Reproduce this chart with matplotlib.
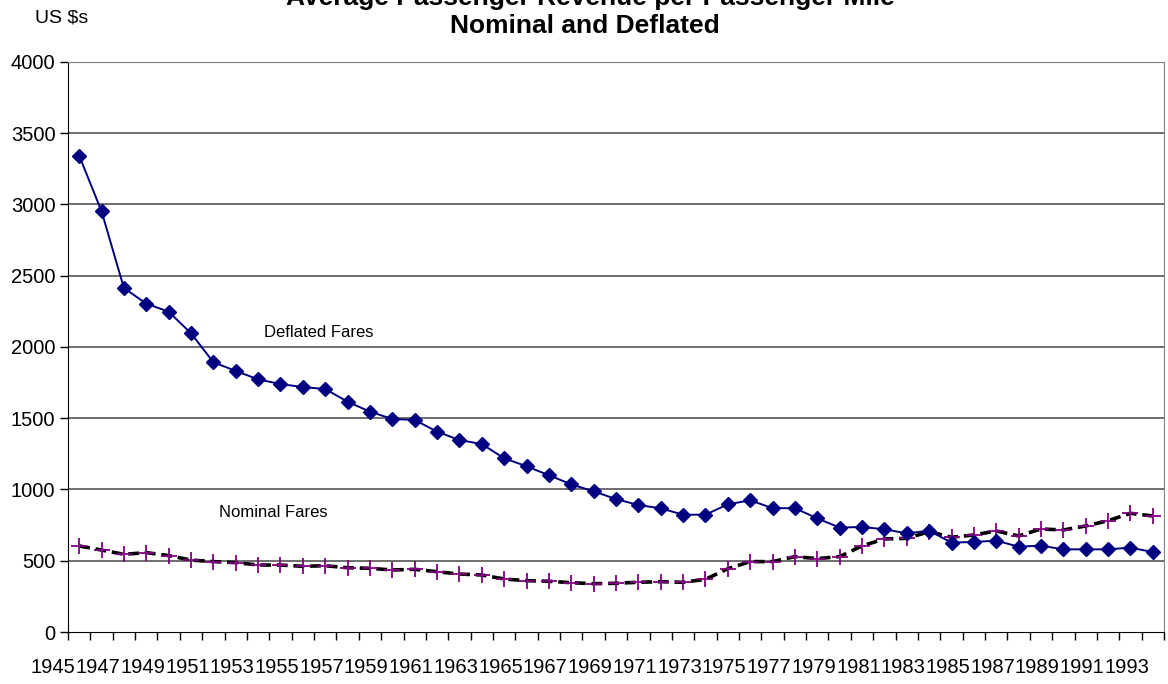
import numpy as np
import matplotlib
matplotlib.use("Agg")
import matplotlib.pyplot as plt
import matplotlib.transforms as mtransforms

plt.rcParams["font.family"] = ["Liberation Sans", "DejaVu Sans"]

# values (US $s)
years = list(range(1945, 1994))
deflated = [3343, 2952, 2414, 2304, 2248, 2096, 1893, 1832, 1773, 1740,
            1719, 1705, 1616, 1546, 1495, 1488, 1406, 1347, 1319, 1219,
            1163, 1100, 1036, 987, 933, 891, 868, 823, 823, 896,
            924, 869, 869, 797, 733, 737, 721, 692, 711, 627,
            632, 641, 599, 606, 580, 580, 580, 592, 561]
nominal = [604, 575, 545, 557, 536, 505, 494, 487, 470, 470,
           461, 465, 451, 447, 435, 440, 423, 407, 400, 372,
           360, 356, 346, 339, 342, 349, 353, 349, 370, 444,
           494, 494, 529, 515, 529, 604, 653, 657, 704, 665,
           681, 709, 674, 723, 716, 744, 781, 833, 814]
yticks = [0, 500, 1000, 1500, 2000, 2500, 3000, 3500, 4000]

x = np.arange(len(years))

fig = plt.figure(figsize=(11.68, 6.84), dpi=100)
ax = fig.add_axes([68 / 1168, 52 / 684, 1096 / 1168, 570 / 684])

for v in yticks[1:]:
    ax.axhline(v, color="#555555", lw=1.2, zorder=1)

ax.plot(x, nominal, color="black", lw=2.6, ls=(0, (3, 1.6)), zorder=2)
ax.plot(x, nominal, ls="none", marker="+", ms=11, mew=1.3, color="#800080", zorder=3)
ax.plot(x, deflated, color="#000080", lw=1.4, marker="D", ms=7, zorder=4)

ax.set_yticks(yticks)
ax.tick_params(axis="y", direction="out", length=6, width=1, labelsize=14.5, pad=3)

# tick marks on category boundaries, labels every other year
ax.set_xticks(np.arange(-0.5, len(years)), labels=[])
ax.set_xticks(x[::2], labels=[str(y) for y in years[::2]], minor=True)
ax.tick_params(axis="x", which="major", direction="out", length=6, width=1)
ax.tick_params(axis="x", which="minor", length=0, labelsize=14.5, pad=19)
ax.set_xlim(-0.5, len(years) - 0.5)
ax.set_ylim(0, 4000)

# the original's year labels sit ~26 px left of their categories
shift = mtransforms.ScaledTranslation(-26 / 100, 0, fig.dpi_scale_trans)
for t in ax.xaxis.get_minor_ticks():
    t.label1.set_transform(t.label1.get_transform() + shift)

ax.spines["left"].set_color("black")
ax.spines["bottom"].set_color("black")
ax.spines["right"].set_color("#808080")
ax.spines["top"].set_color("#808080")

ax.text(10.7, 2105, "Deflated Fares", fontsize=12, ha="center", va="center")
ax.text(8.7, 842, "Nominal Fares", fontsize=12, ha="center", va="center")

fig.text(590 / 1168, 1 - (-2) / 684, "Average Passenger Revenue per Passenger Mile",
         fontsize=19, fontweight="bold", ha="center", va="center")
fig.text(585 / 1168, 1 - 26 / 684, "Nominal and Deflated",
         fontsize=19, fontweight="bold", ha="center", va="center")
fig.text(35 / 1168, 1 - 18 / 684, "US $s", fontsize=14, ha="left", va="center")

fig.savefig("out.png", dpi=100)
